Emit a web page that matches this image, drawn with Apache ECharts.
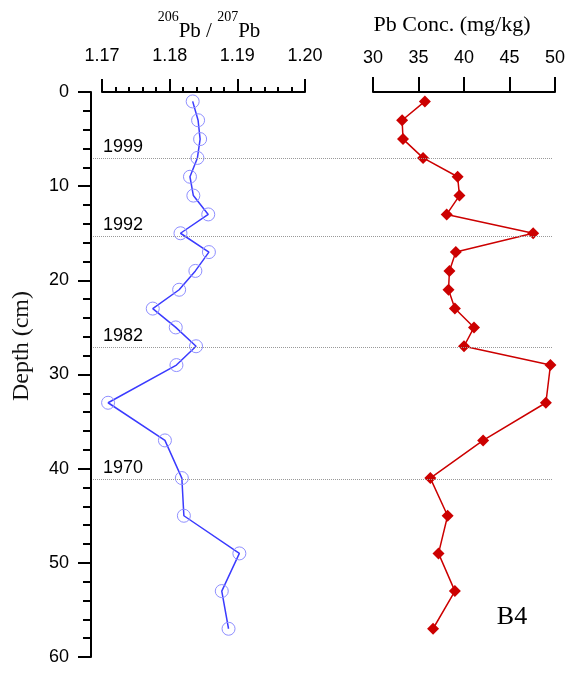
<!DOCTYPE html>
<html>
<head>
<meta charset="utf-8">
<script src="https://cdn.jsdelivr.net/npm/echarts@6/dist/echarts.min.js"></script>
<style>
  html, body { margin: 0; padding: 0; background: #fff; }
  #myChart { width: 571px; height: 673px; }
</style>
</head>
<body>
<div id="myChart"></div>
<script>
// sample depths (cm), shared by both profiles
var depths = [1, 3, 5, 7, 9, 11, 13, 15, 17, 19, 21, 23, 25, 27, 29, 33, 37, 41, 45, 49, 53, 57];
// 206Pb/207Pb ratio
var ratio = [1.1834, 1.1842, 1.1845, 1.1841, 1.1830, 1.1835, 1.1857, 1.1816, 1.1858, 1.1838, 1.1814,
             1.1775, 1.1809, 1.1839, 1.1810, 1.1709, 1.1793, 1.1818, 1.1821, 1.1903, 1.1877, 1.1887];
// Pb concentration (mg/kg)
var pbConc = [35.7, 33.2, 33.3, 35.5, 39.3, 39.5, 38.1, 47.6, 39.1, 38.4, 38.3,
              39.0, 41.1, 40.0, 49.5, 49.0, 42.1, 36.3, 38.2, 37.2, 39.0, 36.6];
// dated horizons
var horizonYears = ['1999', '1992', '1982', '1970'];
var horizonDepths = [7.0, 15.3, 27.1, 41.1];

var sans = '"Liberation Sans", Arial, sans-serif';
var serif = '"Liberation Serif", "Times New Roman", serif';

var myChart = echarts.init(document.getElementById('myChart'));

var axisLineStyle = { color: '#000', width: 2 };
var tickLabel = { fontSize: 18, color: '#000', fontFamily: sans };

var option = {
  backgroundColor: '#fff',
  animation: false,
  grid: [
    { left: 102, top: 92, width: 203, height: 565 },
    { left: 373, top: 92, width: 182, height: 565 },
    { left: 93, top: 92, width: 459, height: 565 }
  ],
  xAxis: [
    {
      gridIndex: 0,
      type: 'value',
      position: 'top',
      min: 1.17,
      max: 1.20,
      interval: 0.01,
      offset: 7,
      axisLine: { lineStyle: axisLineStyle },
      axisTick: { length: 13, lineStyle: axisLineStyle },
      minorTick: { show: true, splitNumber: 5, length: 5, lineStyle: axisLineStyle },
      splitLine: { show: false },
      axisLabel: Object.assign({ margin: 20, formatter: function (v) { return v.toFixed(2); } }, tickLabel),
      name: '{s|206}{m|Pb / }{s|207}{m|Pb}',
      nameLocation: 'middle',
      nameGap: 39,
      nameTextStyle: {
        padding: [0, 0, 0, 11],
        rich: {
          m: { fontSize: 21, fontFamily: serif, color: '#000', lineHeight: 32, verticalAlign: 'bottom' },
          s: { fontSize: 14, fontFamily: serif, color: '#000', lineHeight: 16, verticalAlign: 'top' }
        }
      }
    },
    {
      gridIndex: 1,
      type: 'value',
      position: 'top',
      min: 30,
      max: 50,
      interval: 5,
      offset: 5,
      axisLine: { lineStyle: axisLineStyle },
      axisTick: { length: 15, lineStyle: axisLineStyle },
      splitLine: { show: false },
      axisLabel: Object.assign({ margin: 20 }, tickLabel),
      name: 'Pb Conc. (mg/kg)',
      nameLocation: 'middle',
      nameGap: 51,
      nameTextStyle: { fontSize: 22, fontFamily: serif, color: '#000', padding: [0, 24, 0, 0] }
    },
    { gridIndex: 2, type: 'value', min: 0, max: 1, show: false }
  ],
  yAxis: [
    {
      gridIndex: 0,
      type: 'value',
      min: 0,
      max: 60,
      interval: 10,
      inverse: true,
      position: 'left',
      offset: 11,
      axisLine: { show: true, lineStyle: axisLineStyle },
      axisTick: { show: true, length: 13, lineStyle: axisLineStyle },
      minorTick: { show: true, splitNumber: 5, length: 8, lineStyle: axisLineStyle },
      splitLine: { show: false },
      axisLabel: Object.assign({ margin: 22 }, tickLabel)
    },
    { gridIndex: 1, type: 'value', min: 0, max: 60, inverse: true, show: false },
    { gridIndex: 2, type: 'value', min: 0, max: 60, inverse: true, show: false }
  ],
  graphic: [
    {
      type: 'text',
      x: 22,
      y: 346,
      rotation: Math.PI / 2,
      style: { text: 'Depth (cm)', font: '24px ' + serif, fill: '#111', align: 'center', verticalAlign: 'middle' }
    },
    {
      type: 'text',
      x: 512,
      y: 617,
      style: { text: 'B4', font: '26px ' + serif, fill: '#000', align: 'center', verticalAlign: 'middle' }
    }
  ],
  series: [
    {
      type: 'line',
      xAxisIndex: 2,
      yAxisIndex: 2,
      data: [[0, 0]],
      showSymbol: false,
      symbol: 'none',
      lineStyle: { width: 0 },
      z: 1,
      markLine: {
        silent: true,
        symbol: 'none',
        animation: false,
        lineStyle: { type: 'dotted', color: '#999', width: 1 },
        label: {
          position: 'insideStartTop',
          distance: [10, 2],
          formatter: function (p) { return p.name; },
          fontSize: 18,
          color: '#000',
          fontFamily: sans
        },
        emphasis: { disabled: true },
        data: horizonDepths.map(function (d, i) { return { yAxis: d, name: horizonYears[i] }; })
      }
    },
    {
      type: 'line',
      xAxisIndex: 0,
      yAxisIndex: 0,
      data: ratio.map(function (v, i) { return [v, depths[i]]; }),
      symbol: 'circle',
      symbolSize: 13,
      lineStyle: { color: '#3b3bff', width: 1.5 },
      itemStyle: { color: 'rgba(0,0,0,0)', borderColor: '#8f8fff', borderWidth: 1 },
      z: 3
    },
    {
      type: 'line',
      xAxisIndex: 1,
      yAxisIndex: 1,
      data: pbConc.map(function (v, i) { return [v, depths[i]]; }),
      symbol: 'diamond',
      symbolSize: 12,
      lineStyle: { color: '#cc0000', width: 1.5 },
      itemStyle: { color: '#cc0000' },
      z: 3
    }
  ]
};

myChart.setOption(option);
</script>
</body>
</html>
